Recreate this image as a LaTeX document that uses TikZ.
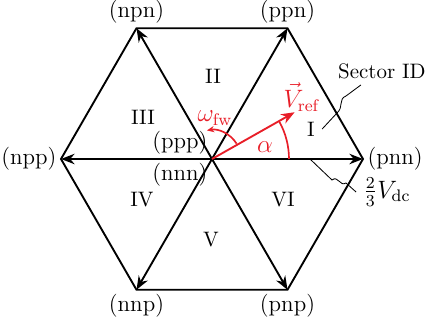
\documentclass[tikz,border=0pt]{standalone}
\usepackage{amsmath,amssymb}
\usepackage{xcolor}
\usepackage{tikz}
\usetikzlibrary{arrows.meta,positioning,calc}
\definecolor{vecred}{RGB}{232,30,40}

\begin{document}
\begin{tikzpicture}[
  x=0.478pt,y=0.478pt,>={Stealth[length=6.5pt,width=5pt]},
  leg/.style={line width=0.9pt},
  refv/.style={line width=0.9pt,draw=vecred},
  state/.style={inner sep=2pt,font=\fontsize{11}{13}\selectfont},
  redlbl/.style={text=vecred,font=\large},
  callout/.style={line width=0.4pt}
]
\useasboundingbox (-212,-161) rectangle (214,159);
\coordinate (O) at (0,0);
\coordinate (pnn) at (0:151);
\coordinate (ppn) at (60:151);
\coordinate (npn) at (120:151);
\coordinate (npp) at (180:151);
\coordinate (nnp) at (240:151);
\coordinate (pnp) at (300:151);
\draw[leg] (pnn) -- (ppn) -- (npn) -- (npp) -- (nnp) -- (pnp) -- cycle;
\foreach \v in {pnn,ppn,npn,npp,nnp,pnp}
  \draw[leg,->] (O) -- (\v);
% switching states
\node[state,above] (lppn) at (ppn) {(ppn)};
\node[state,above] (lnpn) at (npn) {(npn)};
\node[state,left] (lnpp) at (npp) {(npp)};
\node[state,right] (lpnn) at (pnn) {(pnn)};
\node[state,below] (lnnp) at (nnp) {(nnp)};
\node[state,below] (lpnp) at (pnp) {(pnp)};
\node[state,above left] (lppp) at (O) {(ppp)};
\node[state,below left] (lnnn) at (O) {(nnn)};
% sectors
\node (secI) at (99,30) {I};
\node (secII) at (1,83) {II};
\node (secIII) at (-69,42) {III};
\node (secIV) at (-70,-41) {IV};
\node (secV) at (-1,-81) {V};
\node (secVI) at (71,-41) {VI};
% reference vector
\coordinate (vtip) at (29.5:95);
\draw[refv,->] (O) -- (vtip);
\node[redlbl] (vref) at (90,62) {$\vec{V}_{\mathrm{ref}}$};
\draw[draw=vecred,line width=0.8pt] (0:77) arc[start angle=0,end angle=29,radius=36.8pt];
\node[redlbl] (alpha) at (53,12) {$\alpha$};
\draw[draw=vecred,line width=0.8pt,->,>={Stealth[length=3.5pt,width=3pt]}]
  (32:29) arc[start angle=32,end angle=100,radius=13.9pt];
\node[redlbl] (omega) at (3,41) {$\omega_{\mathrm{fw}}$};
% callouts
\node (sid) at (170,88) {Sector ID};
\draw[callout] (secI.east) -- (125,46) .. controls (132,52) and (126,60) .. (134,63)
  -- ($(sid.south west)+(30,1)$);
\node[font=\large] (vdc) at (175,-33) {$\frac{2}{3}V_{\mathrm{dc}}$};
\coordinate (vdcpt) at (98,0);
\draw[callout] (vdcpt) -- (120,-21) .. controls (126,-16) and (128,-28) .. (134,-24)
  -- (vdc.west);
\end{tikzpicture}
\end{document}
